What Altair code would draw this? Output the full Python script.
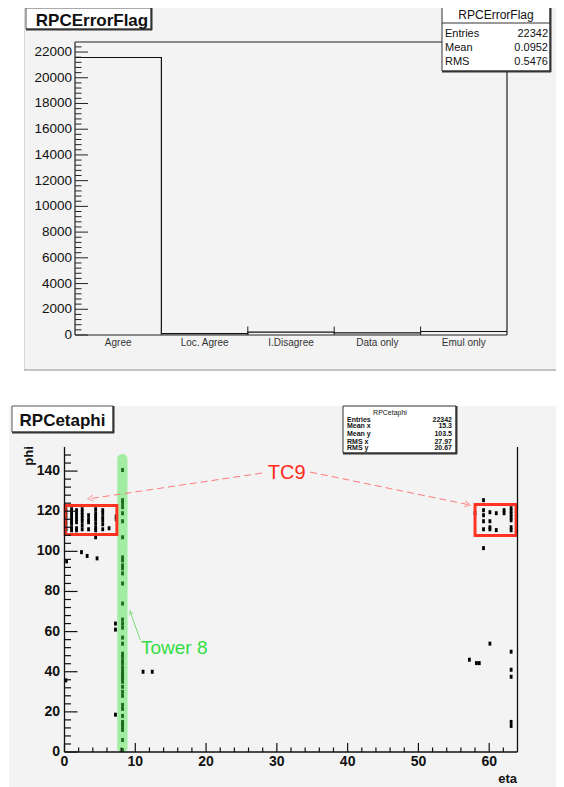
import altair as alt
import pandas as pd

# ---------------- data ----------------
# top histogram (RPCErrorFlag)
flag_bins = ["Agree", "Loc. Agree", "I.Disagree", "Data only", "Emul only"]
flag_counts = [21575, 100, 230, 165, 272]
flag_major_ticks = [0, 2000, 4000, 6000, 8000, 10000, 12000, 14000, 16000, 18000, 20000, 22000]
flag_stat_names = ["Entries", "Mean", "RMS"]
flag_stat_values = ["22342", "0.0952", "0.5476"]

# bottom 2D plot (RPCetaphi)
etaphi_stat_names = ["Entries", "Mean x", "Mean y", "RMS x", "RMS y"]
etaphi_stat_values = ["22342", "15.3", "103.5", "27.97", "20.67"]
eta_major_ticks = [0, 10, 20, 30, 40, 50, 60]
phi_major_ticks = [0, 20, 40, 60, 80, 100, 120, 140]

# (eta, phi) of filled cells
tc9_left_cells = [
    (0.2, 121), (0.2, 119.5), (0.2, 118), (0.2, 116.5), (0.2, 115), (0.2, 113.5), (0.2, 111.5), (0.2, 110.5),
    (1.0, 121), (1.0, 119.5), (1.0, 118), (1.0, 116.5), (1.0, 115), (1.0, 114), (1.0, 112), (1.0, 110.5),
    (1.7, 120.5), (1.7, 119), (1.7, 117.5), (1.7, 116), (1.7, 114.5), (1.7, 111.5), (1.7, 110.5),
    (2.5, 121), (2.5, 119.5), (2.5, 118), (2.5, 116.5), (2.5, 115), (2.5, 113), (2.5, 111),
    (3.4, 118), (3.4, 116), (3.4, 114.5), (3.4, 111),
    (4.4, 121), (4.4, 119), (4.4, 117.5), (4.4, 116), (4.4, 114), (4.4, 112), (4.4, 110.5),
    (5.4, 120.5), (5.4, 119), (5.4, 117), (5.4, 115.5), (5.4, 113.5), (5.4, 111),
    (6.3, 111.5), (7.3, 117.5), (7.3, 116),
    (4.4, 107), (2.4, 99.6), (3.2, 97.7), (4.6, 96.5), (0.3, 95),
]
tower8_phi = [140.5, 125.5, 124, 122, 119, 115, 107, 97, 95.5, 93, 91.5, 89, 84, 74, 66, 64, 62,
              57, 54, 49, 47.5, 45.5, 44, 42, 40.5, 39, 38, 37, 36, 35, 32.5, 30, 28, 23.5, 21.5,
              18, 15, 14, 12.5, 11, 6, 1]
tower8_eta = 8.2
tc9_right_cells = [
    (59.2, 125.5), (58.0, 119), (59.2, 120.5), (59.2, 118), (60.1, 119.5), (61.0, 119), (62.1, 119),
    (62.1, 120.5), (63.1, 121.5), (63.1, 120), (63.1, 118.5), (63.1, 117), (63.1, 115.5), (63.1, 112),
    (63.1, 110.5), (59.2, 115), (60.1, 115), (59.2, 111), (60.1, 112), (60.1, 111), (61.0, 110.6),
    (59.2, 101.6),
]
other_cells = [
    (7.2, 64), (7.2, 61), (7.2, 18.6), (0.2, 35.7), (11.1, 40), (12.4, 40), (57.2, 46), (58.2, 44.3),
    (58.6, 44.3), (60.1, 54), (63.1, 50), (63.1, 41), (63.1, 37.5), (63.1, 15), (63.1, 13),
]

FONT = "Liberation Sans"
BG = "#f3f3f3"

# ---------------- scales ----------------
TX = alt.Scale(domain=[0, 5], range=[67, 499], nice=False, zero=False)
TY = alt.Scale(domain=[0, 22780], range=[327, 34], nice=False, zero=False)
BX = alt.Scale(domain=[0, 64], range=[56.5, 509.5], nice=False, zero=False)
BY = alt.Scale(domain=[0, 152], range=[744, 439], nice=False, zero=False)

D0 = pd.DataFrame({"k": [0]})


def P(v):
    return v - 8


def prect(x1, y1, x2, y2, **kw):
    return alt.Chart(D0).mark_rect(**kw).encode(
        x=alt.value(P(x1)), x2=alt.value(P(x2)), y=alt.value(P(y1)), y2=alt.value(P(y2)))


def pline(x1, y1, x2, y2, color, width=1):
    return alt.Chart(D0).mark_rule(color=color, strokeWidth=width).encode(
        x=alt.value(P(x1)), x2=alt.value(P(x2)), y=alt.value(P(y1)), y2=alt.value(P(y2)))


def ptext(txt, x, y, size, **kw):
    return alt.Chart(D0).mark_text(text=txt, fontSize=size, font=FONT, **kw).encode(
        x=alt.value(P(x)), y=alt.value(P(y)))


def seg_layer(df, scx, scy, **kw):
    return alt.Chart(df).mark_rule(**kw).encode(
        x=alt.X("x:Q", scale=scx, axis=None), x2="x2:Q",
        y=alt.Y("y:Q", scale=scy, axis=None), y2="y2:Q")


layers = []

# ================= TOP PAD =================
layers.append(prect(24, 0, 558, 371, fill=BG))
layers.append(pline(24.5, 0, 24.5, 371, "#d6d6d6"))
layers.append(pline(557, 0, 557, 371, "#b5b5b5", 2))
layers.append(pline(24, 370, 558, 370, "#c4c4c4", 2))

# histogram outline
hist_df = pd.DataFrame({"edge": list(range(len(flag_counts) + 1)),
                        "count": flag_counts + [flag_counts[-1]]})
layers.append(alt.Chart(hist_df).mark_line(interpolate="step-after", color="#111", strokeWidth=1.2).encode(
    x=alt.X("edge:Q", scale=TX, axis=None), y=alt.Y("count:Q", scale=TY, axis=None)))

# frame
top_frame = pd.DataFrame({"x": [0, 5, 0, 0], "x2": [5, 5, 0, 5],
                          "y": [22780, 0, 0, 0], "y2": [22780, 22780, 22780, 0]})
layers.append(seg_layer(top_frame, TX, TY, color="#222", strokeWidth=1.2))

# y ticks
tmaj = pd.DataFrame({"v": flag_major_ticks, "label": [str(v) for v in flag_major_ticks]})
tmin = pd.DataFrame({"v": [v for v in range(400, 22780, 400) if v % 2000 != 0]})
layers.append(alt.Chart(tmaj).mark_rule(color="#222").encode(
    y=alt.Y("v:Q", scale=TY, axis=None), x=alt.value(67), x2=alt.value(80)))
layers.append(alt.Chart(tmin).mark_rule(color="#222").encode(
    y=alt.Y("v:Q", scale=TY, axis=None), x=alt.value(67), x2=alt.value(73.5)))
layers.append(alt.Chart(tmaj).mark_text(align="right", baseline="middle", font=FONT, fontSize=13.5,
                                        color="#111").encode(
    y=alt.Y("v:Q", scale=TY, axis=None), x=alt.value(P(72)), text="label:N"))

# x ticks at bin edges and bin labels
xedge = pd.DataFrame({"e": [1, 2, 3, 4]})
layers.append(alt.Chart(xedge).mark_rule(color="#222").encode(
    x=alt.X("e:Q", scale=TX, axis=None), y=alt.value(327), y2=alt.value(318.5)))
xlab = pd.DataFrame({"c": [i + 0.5 for i in range(len(flag_bins))], "label": flag_bins})
layers.append(alt.Chart(xlab).mark_text(baseline="middle", font=FONT, fontSize=10, color="#333").encode(
    x=alt.X("c:Q", scale=TX, axis=None), y=alt.value(P(343)), text="label:N"))

# title box
layers.append(prect(26, 8, 151, 29, fill="white", stroke="#555", strokeWidth=1))
layers.append(pline(151.5, 8, 151.5, 30, "#333", 2))
layers.append(pline(26, 29.5, 152, 29.5, "#333", 2))
layers.append(ptext("RPCErrorFlag", 92, 26, 17, fontWeight="bold", color="#111", baseline="alphabetic"))

# stats box
layers.append(prect(442, 7, 550, 71, fill="white", stroke="#333", strokeWidth=1))
layers.append(pline(550.5, 7, 550.5, 72, "#333", 2))
layers.append(pline(442, 71.5, 551, 71.5, "#333", 2))
layers.append(pline(442, 23, 550, 23, "#333", 1))
layers.append(ptext("RPCErrorFlag", 496, 19, 12, color="#111", baseline="alphabetic"))
for i, (n, v) in enumerate(zip(flag_stat_names, flag_stat_values)):
    yb = [37, 51, 65][i]
    layers.append(ptext(n, 445, yb, 11, color="#111", align="left", baseline="alphabetic"))
    layers.append(ptext(v, 548, yb, 11, color="#111", align="right", baseline="alphabetic"))

# ================= BOTTOM PAD =================
layers.append(prect(9, 406, 560, 787, fill=BG))

# green band for tower 8 (semi transparent, drawn above points later)
band = pd.DataFrame({"x": [7.45], "x2": [8.9], "y": [-0.5], "y2": [148.5]})

# points
pts = ([{"eta": e, "phi": p} for e, p in tc9_left_cells]
       + [{"eta": tower8_eta, "phi": p} for p in tower8_phi]
       + [{"eta": e, "phi": p} for e, p in tc9_right_cells]
       + [{"eta": e, "phi": p} for e, p in other_cells])
pts_df = pd.DataFrame(pts)
layers.append(alt.Chart(pts_df).mark_point(shape="M-0.7,-1H0.7V1H-0.7Z", size=16, filled=True,
                                           color="black", opacity=1).encode(
    x=alt.X("eta:Q", scale=BX, axis=None), y=alt.Y("phi:Q", scale=BY, axis=None)))

layers.append(alt.Chart(band).mark_rect(color="#40e640", opacity=0.45, cornerRadius=5).encode(
    x=alt.X("x:Q", scale=BX, axis=None), x2="x2:Q",
    y=alt.Y("y:Q", scale=BY, axis=None), y2="y2:Q"))

# red TC9 boxes
red_boxes = pd.DataFrame({"x": [0.1, 58.0], "x2": [7.4, 63.8], "y": [108.4, 107.9], "y2": [122.8, 123.3]})
layers.append(alt.Chart(red_boxes).mark_rect(fillOpacity=0, stroke="#ff3322", strokeWidth=3).encode(
    x=alt.X("x:Q", scale=BX, axis=None), x2="x2:Q",
    y=alt.Y("y:Q", scale=BY, axis=None), y2="y2:Q"))

# frame
bot_frame = pd.DataFrame({"x": [0, 0, 64], "x2": [0, 64, 64], "y": [0, 0, 0], "y2": [152, 0, 152]})
layers.append(seg_layer(bot_frame, BX, BY, color="#111", strokeWidth=1.3))

# ticks
bmaj_y = pd.DataFrame({"v": phi_major_ticks, "label": [str(v) for v in phi_major_ticks]})
bmin_y = pd.DataFrame({"v": [v for v in range(4, 152, 4) if v % 20 != 0]})
bmaj_x = pd.DataFrame({"v": eta_major_ticks, "label": [str(v) for v in eta_major_ticks]})
bmin_x = pd.DataFrame({"v": [v for v in range(2, 64, 2) if v % 10 != 0]})
layers.append(alt.Chart(bmaj_y).mark_rule(color="#111", strokeWidth=1.2).encode(
    y=alt.Y("v:Q", scale=BY, axis=None), x=alt.value(56.5), x2=alt.value(69.5)))
layers.append(alt.Chart(bmin_y).mark_rule(color="#111", strokeWidth=1.2).encode(
    y=alt.Y("v:Q", scale=BY, axis=None), x=alt.value(56.5), x2=alt.value(63)))
layers.append(alt.Chart(bmaj_x).mark_rule(color="#111", strokeWidth=1.2).encode(
    x=alt.X("v:Q", scale=BX, axis=None), y=alt.value(744), y2=alt.value(735)))
layers.append(alt.Chart(bmin_x).mark_rule(color="#111", strokeWidth=1.2).encode(
    x=alt.X("v:Q", scale=BX, axis=None), y=alt.value(744), y2=alt.value(739.5)))
layers.append(alt.Chart(bmaj_y).mark_text(align="right", baseline="middle", font=FONT, fontSize=14,
                                          fontWeight="bold", color="#111").encode(
    y=alt.Y("v:Q", scale=BY, axis=None), x=alt.value(P(60)), text="label:N"))
layers.append(alt.Chart(bmaj_x).mark_text(align="center", baseline="middle", font=FONT, fontSize=14,
                                          fontWeight="bold", color="#111").encode(
    x=alt.X("v:Q", scale=BX, axis=None), y=alt.value(P(762)), text="label:N"))
layers.append(ptext("phi", 29, 456, 13, fontWeight="bold", color="#111", angle=270, baseline="middle"))
layers.append(ptext("eta", 517, 779, 13, fontWeight="bold", color="#111", align="right", baseline="middle"))

# arrows
red_arrows = pd.DataFrame({"x": [27.9, 34.7], "y": [139.0, 139.5], "x2": [3.3, 57.3], "y2": [126.1, 123.1]})
layers.append(alt.Chart(red_arrows).mark_rule(color="#ff7a7a", strokeWidth=1, strokeDash=[7, 4]).encode(
    x=alt.X("x:Q", scale=BX, axis=None), x2="x2:Q",
    y=alt.Y("y:Q", scale=BY, axis=None), y2="y2:Q"))
heads = pd.DataFrame({"x": [3.3, 57.3], "y": [126.1, 123.1], "ang": [171.5, 11.6]})
layers.append(alt.Chart(heads).mark_point(shape="M-1,-0.55L0,0L-1,0.55", size=120, color="#ff7a7a",
                                          strokeWidth=1, filled=False).encode(
    x=alt.X("x:Q", scale=BX, axis=None), y=alt.Y("y:Q", scale=BY, axis=None),
    angle=alt.Angle("ang:Q", scale=None)))
green_arrow = pd.DataFrame({"x": [10.7], "y": [55.8], "x2": [9.25], "y2": [70.3], "ang": [251]})
layers.append(alt.Chart(green_arrow).mark_rule(color="#77e077", strokeWidth=1).encode(
    x=alt.X("x:Q", scale=BX, axis=None), x2="x2:Q",
    y=alt.Y("y:Q", scale=BY, axis=None), y2="y2:Q"))
layers.append(alt.Chart(green_arrow).mark_point(shape="M-1,-0.55L0,0L-1,0.55", size=60, color="#77e077",
                                                strokeWidth=1, filled=False).encode(
    x=alt.X("x2:Q", scale=BX, axis=None), y=alt.Y("y2:Q", scale=BY, axis=None),
    angle=alt.Angle("ang:Q", scale=None)))

# annotation texts
ann = pd.DataFrame({"x": [31.4], "y": [136.0]})
layers.append(alt.Chart(ann).mark_text(text="TC9", font=FONT, fontSize=20, color="#ff2a1a",
                                       baseline="alphabetic", align="center").encode(
    x=alt.X("x:Q", scale=BX, axis=None), y=alt.Y("y:Q", scale=BY, axis=None)))
ann2 = pd.DataFrame({"x": [10.8], "y": [48.8]})
layers.append(alt.Chart(ann2).mark_text(text="Tower 8", font=FONT, fontSize=19, color="#33dd44",
                                        baseline="alphabetic", align="left").encode(
    x=alt.X("x:Q", scale=BX, axis=None), y=alt.Y("y:Q", scale=BY, axis=None)))

# title box
layers.append(prect(12, 406, 113, 432, fill="white", stroke="#555", strokeWidth=1))
layers.append(pline(113.5, 406, 113.5, 433, "#333", 2))
layers.append(pline(12, 432.5, 114, 432.5, "#333", 2))
layers.append(ptext("RPCetaphi", 62.5, 426, 17, fontWeight="bold", color="#111", baseline="alphabetic"))

# stats box
layers.append(prect(343, 406, 456, 453, fill="white", stroke="#333", strokeWidth=1))
layers.append(pline(456.5, 406, 456.5, 454, "#333", 2))
layers.append(pline(343, 453.5, 457, 453.5, "#333", 2))
layers.append(ptext("RPCetaphi", 390, 415, 7, color="#111", baseline="alphabetic"))
for i, (n, v) in enumerate(zip(etaphi_stat_names, etaphi_stat_values)):
    yb = [422, 428, 436, 444, 450][i]
    layers.append(ptext(n, 347, yb, 7, color="#111", align="left", baseline="alphabetic", fontWeight="bold"))
    layers.append(ptext(v, 452, yb, 7, color="#111", align="right", baseline="alphabetic", fontWeight="bold"))

chart = alt.layer(*layers).resolve_scale(x="independent", y="independent").properties(
    width=548, height=779, padding=0, autosize=alt.AutoSizeParams(type="none"), background="white"
).configure_view(stroke=None)

chart.save("out.html", embed_options={"renderer": "svg", "actions": False})
